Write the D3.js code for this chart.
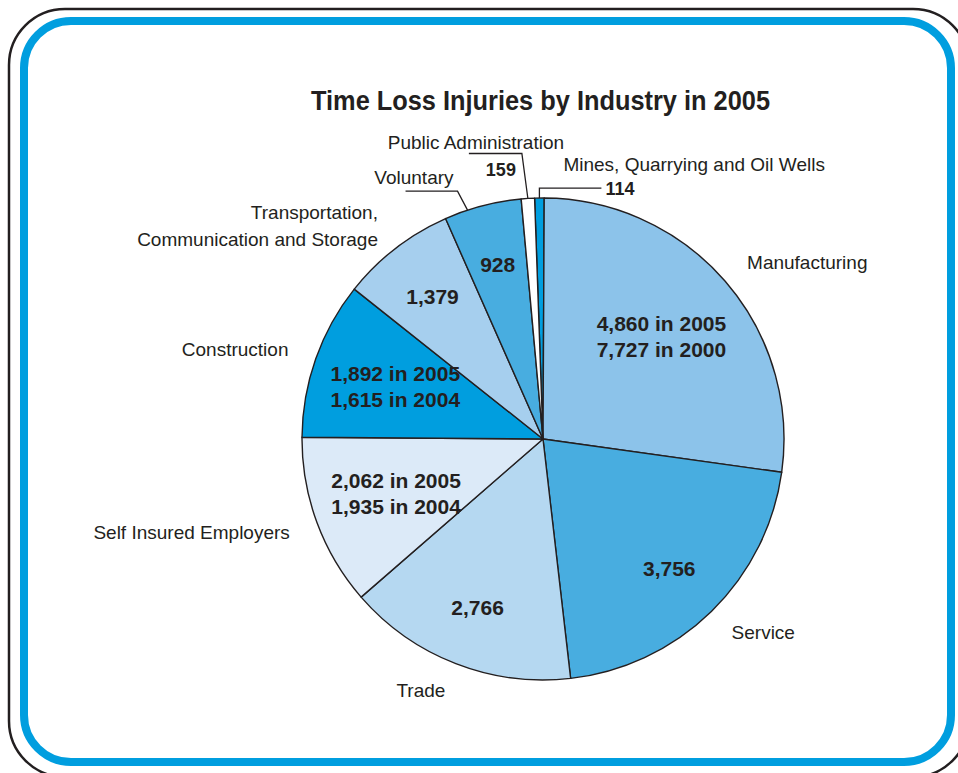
<!DOCTYPE html>
<html>
<head>
<meta charset="utf-8">
<script src="https://cdn.jsdelivr.net/npm/d3@7"></script>
<style>
  body { margin: 0; background: #ffffff; }
  svg { display: block; }
</style>
</head>
<body>
<svg id="chart" width="958" height="773"></svg>
<script>
// Time loss injuries by industry, 2005 (clockwise from the top)
const industries = [
  "Mines, Quarrying and Oil Wells",
  "Manufacturing",
  "Service",
  "Trade",
  "Self Insured Employers",
  "Construction",
  "Transportation,|Communication and Storage",
  "Voluntary",
  "Public Administration"
];
const injuries2005 = [114, 4860, 3756, 2766, 2062, 1892, 1379, 928, 159];
// Earlier-year figures quoted beside some sectors
const earlierValues = [null, 7727, null, null, 1935, 1615, null, null, null];
const earlierYears  = [null, 2000, null, null, 2004, 2004, null, null, null];
const sliceColors = ["#009edf", "#8cc3ea", "#48ade0", "#b5d8f1", "#dceaf8",
                     "#009edf", "#a6cfee", "#48ade0", "#ffffff"];
const titleText = "Time Loss Injuries by Industry in 2005";

const W = 958, H = 773;
const cx = 543, cy = 439, R = 241;
const ink = "#231f20";
const fmt = d3.format(",");
const deg = Math.PI / 180;

const svg = d3.select("#chart");

// Rounded frames
svg.append("rect")
  .attr("x", 9).attr("y", 9).attr("width", 960).attr("height", 768)
  .attr("rx", 56).attr("ry", 56)
  .attr("fill", "none").attr("stroke", ink).attr("stroke-width", 2.5);
svg.append("rect")
  .attr("x", 24).attr("y", 21).attr("width", 927).attr("height", 741)
  .attr("rx", 47).attr("ry", 47)
  .attr("fill", "#ffffff").attr("stroke", "#009edf").attr("stroke-width", 8);

// Title, set in a condensed bold face
svg.append("text")
  .attr("x", 311).attr("y", 110)
  .attr("font-family", "'Liberation Sans', Arial, sans-serif")
  .attr("font-weight", "bold")
  .attr("font-size", 27)
  .attr("textLength", 459)
  .attr("lengthAdjust", "spacingAndGlyphs")
  .attr("fill", ink)
  .text(titleText);

const data = industries.map((name, i) => ({
  name, value: injuries2005[i], prev: earlierValues[i], prevYear: earlierYears[i], color: sliceColors[i]
}));

const startOffset = -2 * deg;
const pie = d3.pie().value(d => d.value).sort(null)
  .startAngle(startOffset).endAngle(startOffset + 2 * Math.PI);
const arcs = pie(data);
const arc = d3.arc().innerRadius(0).outerRadius(R);

const g = svg.append("g").attr("transform", `translate(${cx},${cy})`);

g.selectAll("path.slice").data(arcs).join("path")
  .attr("class", "slice")
  .attr("d", arc)
  .attr("fill", d => d.data.color)
  .attr("stroke", ink)
  .attr("stroke-width", 1.4)
  .attr("stroke-linejoin", "round");

const pt = (a, r) => [r * Math.sin(a), -r * Math.cos(a)];
const labelFont = "'Liberation Sans', Arial, sans-serif";

function valueLines(d) {
  if (d.prev != null) {
    return [`${fmt(d.value)} in 2005`, `${fmt(d.prev)} in ${d.prevYear}`];
  }
  return [fmt(d.value)];
}

function multiText(sel, lines, x, y, anchor, size, weight, lh) {
  const t = sel.append("text")
    .attr("text-anchor", anchor)
    .attr("font-family", labelFont)
    .attr("font-size", size)
    .attr("font-weight", weight)
    .attr("fill", ink);
  const top = y - (lines.length - 1) * lh / 2;
  lines.forEach((ln, k) => {
    t.append("tspan").attr("x", x).attr("y", top + k * lh)
      .attr("dy", "0.36em").text(ln);
  });
  return t;
}

const leader = (points) => g.append("path")
  .attr("d", d3.line()(points))
  .attr("fill", "none").attr("stroke", ink).attr("stroke-width", 1.3);

arcs.forEach(a => {
  const d = a.data;
  const span = (a.endAngle - a.startAngle) / deg;
  const mid = (a.startAngle + a.endAngle) / 2;
  const nameLines = d.name.split("|");

  if (span < 5) {
    // Slivers: value and name placed outside with a leader
    const e = pt(mid, R);
    if (mid < 0) {
      const elbow = [e[0], e[1] - 10];
      const end = [elbow[0] + 62, elbow[1]];
      leader([e, elbow, end]);
      g.append("text").attr("x", end[0] + 4).attr("y", end[1]).attr("dy", "0.36em")
        .attr("font-family", labelFont).attr("font-size", 18).attr("font-weight", "bold")
        .attr("fill", ink).text(fmt(d.value));
      g.append("text").attr("x", e[0] + 24).attr("y", e[1] - 34).attr("dy", "0.36em")
        .attr("font-family", labelFont).attr("font-size", 19).attr("fill", ink).text(d.name);
    } else {
      const elbow = [e[0] - 6, e[1] - 45];
      const end = [elbow[0] - 53, elbow[1]];
      leader([e, elbow, end]);
      g.append("text").attr("x", elbow[0] - 46).attr("y", elbow[1] - 11).attr("dy", "0.36em")
        .attr("text-anchor", "middle")
        .attr("font-family", labelFont).attr("font-size", 19).attr("fill", ink).text(d.name);
      g.append("text").attr("x", elbow[0] - 21).attr("y", elbow[1] + 16).attr("dy", "0.36em")
        .attr("text-anchor", "middle")
        .attr("font-family", labelFont).attr("font-size", 18).attr("font-weight", "bold")
        .attr("fill", ink).text(fmt(d.value));
    }
    return;
  }

  // Value inside the slice
  const lines = valueLines(d);
  const rv = lines.length > 1 ? 0.65 * R : 0.75 * R;
  const vp = pt(mid, rv);
  multiText(g, lines, vp[0], vp[1], "middle", 21, "bold", 26);

  if (span < 20) {
    // Narrow slice: name sits above an elbow leader
    const la = a.startAngle + 0.3 * (a.endAngle - a.startAngle);
    const e = pt(la, R);
    const elbow = [e[0] - 10, e[1] - 19];
    const end = [elbow[0] - 52, elbow[1]];
    leader([e, elbow, end]);
    g.append("text").attr("x", elbow[0] - 4).attr("y", elbow[1] - 14).attr("dy", "0.36em")
      .attr("text-anchor", "end")
      .attr("font-family", labelFont).attr("font-size", 19).attr("fill", ink).text(d.name);
    return;
  }

  // Name outside the rim
  const np = pt(mid, R * 1.12);
  const s = Math.sin(mid);
  const anchor = s > 0.3 ? "start" : (s < -0.3 ? "end" : "middle");
  multiText(g, nameLines, np[0], np[1], anchor, 19, "normal", 27);
});
</script>
</body>
</html>
